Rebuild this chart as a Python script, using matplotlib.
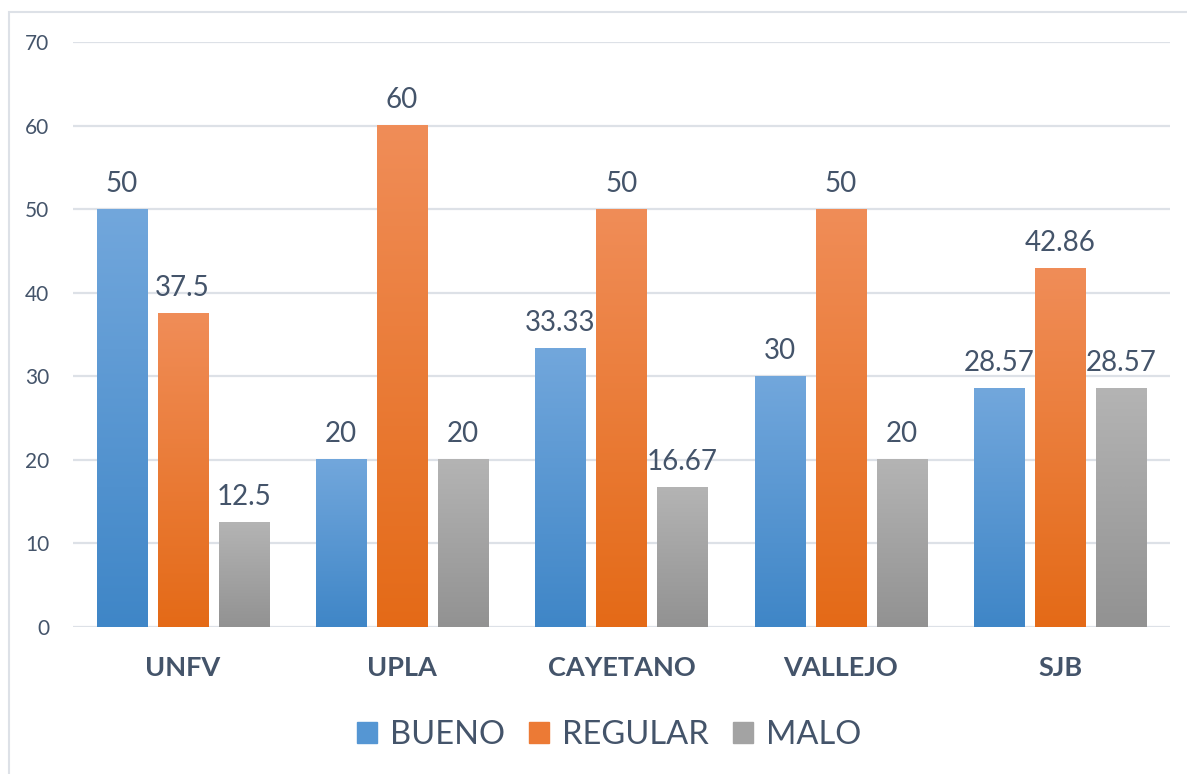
import numpy as np
import matplotlib.pyplot as plt
from matplotlib.colors import LinearSegmentedColormap
from matplotlib.patches import Rectangle

# --------------------
# DATA
# --------------------
categories = ["UNFV", "UPLA", "CAYETANO", "VALLEJO", "SJB"]
series_names = ["BUENO", "REGULAR", "MALO"]
bueno = [50, 20, 33.33, 30, 28.57]
regular = [37.5, 60, 50, 50, 42.86]
malo = [12.5, 20, 16.67, 20, 28.57]
label_text = [
    ["50", "20", "33.33", "30", "28.57"],
    ["37.5", "60", "50", "50", "42.86"],
    ["12.5", "20", "16.67", "20", "28.57"],
]
y_ticks = [0, 10, 20, 30, 40, 50, 60, 70]

# gradient colours (top, bottom) per series
grad = [("#72A7DC", "#3F86C7"), ("#F08D58", "#E46A17"), ("#B4B4B4", "#929292")]
legend_col = ["#5596D3", "#EC7A35", "#A3A3A3"]
TEXT = "#44546A"
GRID = "#DDE1E7"

plt.rcParams['font.family'] = ['Lato', 'DejaVu Sans']

fig = plt.figure(figsize=(11.87, 7.74), dpi=100)
ax = fig.add_axes([73 / 1187, 1 - 627 / 774, (1170 - 73) / 1187, (627 - 42) / 774])

x = np.arange(len(categories))
width = 0.228
step = 0.278
all_series = [bueno, regular, malo]

for i, vals in enumerate(all_series):
    offs = (i - 1) * step
    bars = ax.bar(x + offs, vals, width, color="none", edgecolor="none", zorder=2)
    cmap = LinearSegmentedColormap.from_list(series_names[i], [grad[i][1], grad[i][0]])
    for j, b in enumerate(bars):
        bx, by = b.get_x(), b.get_y()
        bw, bh = b.get_width(), b.get_height()
        g = np.linspace(0, 1, 256).reshape(-1, 1)
        ax.imshow(g, cmap=cmap, origin="lower", aspect="auto",
                  extent=[bx, bx + bw, by, by + bh], zorder=2)
        ax.annotate(label_text[i][j], (bx + bw / 2, bh), xytext=(0, 12.5),
                    textcoords="offset points", ha="center", va="baseline",
                    fontsize=20, color=TEXT)

ax.set_xlim(-0.5, len(categories) - 0.5)
ax.set_ylim(0, 70)
ax.set_yticks(y_ticks)
ax.set_xticks(x)
ax.set_xticklabels(categories, fontsize=19.5, fontweight="bold", color=TEXT)
ax.tick_params(axis="y", labelsize=15, labelcolor=TEXT, length=0, pad=17)
ax.tick_params(axis="x", length=0, pad=21)
ax.grid(axis="y", color=GRID, linewidth=1.6, zorder=0)
ax.set_axisbelow(True)
for s in ax.spines.values():
    s.set_visible(False)

# legend
handles = [Rectangle((0, 0), 1, 1, color=legend_col[i]) for i in range(3)]
leg = fig.legend(handles, series_names, loc="center", bbox_to_anchor=(609 / 1187, 1 - 735 / 774),
                 ncol=3, frameon=False, fontsize=23.5, handlelength=0.6, handleheight=0.6,
                 handletextpad=0.4, columnspacing=0.75)
for t in leg.get_texts():
    t.set_color(TEXT)

# outer chart border (left/top visible, right/bottom cut off)
fig.patches.append(Rectangle((9 / 1187, -0.1), 1.2, 1 - 12 / 774 + 0.1, transform=fig.transFigure,
                             fill=False, edgecolor=GRID, linewidth=1.5))

fig.savefig("out.png", dpi=100)
